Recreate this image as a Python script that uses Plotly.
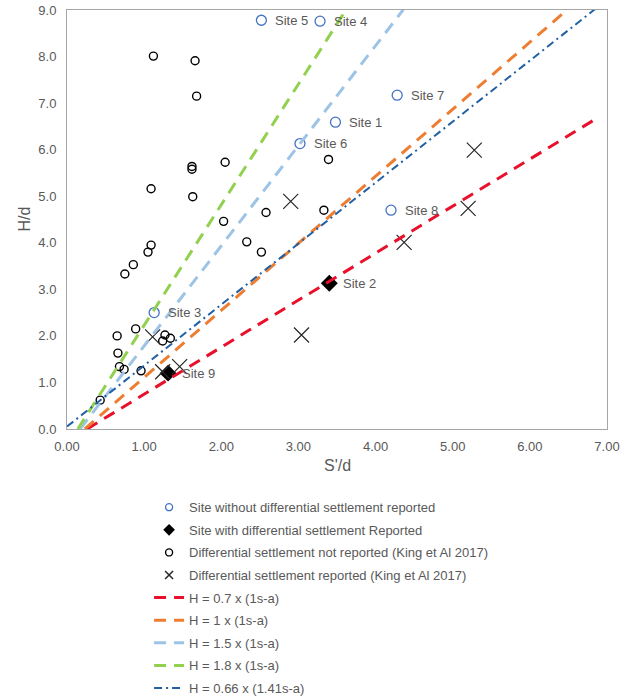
import plotly.graph_objects as go

# ---- data ----
site_nr_x = [2.52, 3.28, 4.28, 3.48, 3.02, 4.20, 1.13]
site_nr_y = [8.78, 8.76, 7.17, 6.59, 6.13, 4.70, 2.50]
site_nr_lbl = ["Site 5", "Site 4", "Site 7", "Site 1", "Site 6", "Site 8", "Site 3"]

site_r_x = [3.40, 1.31]
site_r_y = [3.13, 1.20]
site_r_lbl = ["Site 2", "Site 9"]

king_nr_x = [1.12, 1.66, 1.68, 1.62, 1.62, 2.05, 1.09, 1.63, 2.58, 3.39, 3.33,
             2.03, 2.33, 2.52, 1.09, 1.05, 0.86, 0.75, 0.89, 0.65, 0.66, 0.68,
             0.74, 0.96, 0.43, 1.27, 1.24, 1.34]
king_nr_y = [8.01, 7.91, 7.15, 5.64, 5.58, 5.73, 5.16, 4.99, 4.65, 5.79, 4.70,
             4.46, 4.02, 3.80, 3.95, 3.80, 3.53, 3.33, 2.15, 2.00, 1.63, 1.34,
             1.28, 1.25, 0.62, 2.02, 1.89, 1.95]

king_r_x = [2.90, 5.28, 5.20, 4.37, 3.04, 1.11, 1.46, 1.24]
king_r_y = [4.89, 5.99, 4.74, 4.01, 2.02, 1.98, 1.34, 1.23]

# design lines: H/d = slope * (S'/d - x0), drawn between x_start and x_end
line_names = ["H = 0.7 x (1s-a)", "H = 1 x (1s-a)", "H = 1.5 x (1s-a)",
              "H = 1.8 x (1s-a)", "H = 0.66 x (1.41s-a)"]
line_slope = [1.01, 1.44, 2.15, 2.59, 1.31]
line_x0 = [0.26, 0.23, 0.17, 0.14, -0.04]
line_x_start = [0.26, 0.23, 0.17, 0.14, 0.0]
line_x_end = [6.87, 6.5, 4.36, 3.62, 6.9]
line_colors = ["#E8102A", "#ED7D31", "#9DC3E6", "#92D050", "#2160A5"]
line_dash = ["12px,8px", "12px,8px", "12px,8px", "12px,8px", "8px,4px,2px,4px"]
line_width = [3, 3, 3, 3, 2]

x_ticks = [0, 1, 2, 3, 4, 5, 6, 7]
y_ticks = [0, 1, 2, 3, 4, 5, 6, 7, 8, 9]

FONT = "Liberation Sans, Arial, sans-serif"
GRAY = "#595959"

fig = go.Figure()

marker_styles = [
    ("Site without differential settlement reported", site_nr_x, site_nr_y,
     dict(symbol="circle-open", size=10, color="#4472C4", line=dict(color="#4472C4", width=1.3)),
     dict(symbol="circle-open", size=7, color="#4472C4", line=dict(color="#4472C4", width=1.3))),
    ("Site with differential settlement Reported", site_r_x, site_r_y,
     dict(symbol="diamond", size=13, color="black"),
     dict(symbol="diamond", size=9, color="black")),
    ("Differential settlement not reported (King et Al 2017)", king_nr_x, king_nr_y,
     dict(symbol="circle-open", size=8, color="black", line=dict(color="black", width=1.4)),
     dict(symbol="circle-open", size=7, color="black", line=dict(color="black", width=1.4))),
    ("Differential settlement reported (King et Al 2017)", king_r_x, king_r_y,
     dict(symbol="x-thin", size=15, color="#262626", line=dict(color="#262626", width=1.2)),
     dict(symbol="x-thin", size=8, color="#262626", line=dict(color="#262626", width=1.5))),
]

for i, (nm, xs, ys, mk, mk_leg) in enumerate(marker_styles):
    fig.add_trace(go.Scatter(x=xs, y=ys, mode="markers", name=nm, marker=mk,
                             showlegend=False, legendgroup="m%d" % i))
    fig.add_trace(go.Scatter(x=[None], y=[None], mode="markers", name=nm, marker=mk_leg,
                             showlegend=True, legendgroup="m%d" % i))

for i, nm in enumerate(line_names):
    xs = [line_x_start[i], line_x_end[i]]
    ys = [line_slope[i] * (xv - line_x0[i]) for xv in xs]
    fig.add_trace(go.Scatter(
        x=xs, y=ys, mode="lines", name=nm,
        line=dict(color=line_colors[i], dash=line_dash[i], width=line_width[i]),
        legendgroup="l%d" % i))

# site labels
for xv, yv, t in list(zip(site_nr_x, site_nr_y, site_nr_lbl)) + list(zip(site_r_x, site_r_y, site_r_lbl)):
    fig.add_annotation(x=xv, y=yv, text=t, showarrow=False, xanchor="left",
                       xshift=12, yshift=0, font=dict(family=FONT, size=13, color=GRAY))

# axis titles
fig.add_annotation(xref="paper", yref="paper", x=0.5, y=-0.088, yanchor="middle",
                   text="S'/d", showarrow=False,
                   font=dict(family=FONT, size=16, color=GRAY))
fig.add_annotation(xref="paper", yref="paper", x=-0.0796, y=0.5, xanchor="center",
                   yanchor="middle", textangle=-90,
                   text="H/d", showarrow=False,
                   font=dict(family=FONT, size=16, color=GRAY))

fig.update_xaxes(range=[0, 7], tickvals=x_ticks, tickformat=".2f",
                 showgrid=False, zeroline=False, showline=True, mirror=True,
                 linecolor="#A6A6A6", linewidth=1, ticks="", ticklabelstandoff=5,
                 tickfont=dict(family=FONT, size=13, color=GRAY))
fig.update_yaxes(range=[0, 9], tickvals=y_ticks, tickformat=".1f",
                 showgrid=False, zeroline=False, showline=True, mirror=True,
                 linecolor="#A6A6A6", linewidth=1, ticks="", ticklabelstandoff=7,
                 tickfont=dict(family=FONT, size=13, color=GRAY))

fig.update_layout(
    width=633, height=698,
    margin=dict(l=67, r=26, t=10, b=269, autoexpand=False),
    plot_bgcolor="white", paper_bgcolor="white",
    font=dict(family=FONT, color=GRAY),
    legend=dict(x=0.152, y=-0.151, xanchor="left", yanchor="top",
                font=dict(family=FONT, size=13, color=GRAY),
                tracegroupgap=2.7, itemwidth=30, bgcolor="rgba(0,0,0,0)"),
    showlegend=True,
)

fig.write_html("out.html")
